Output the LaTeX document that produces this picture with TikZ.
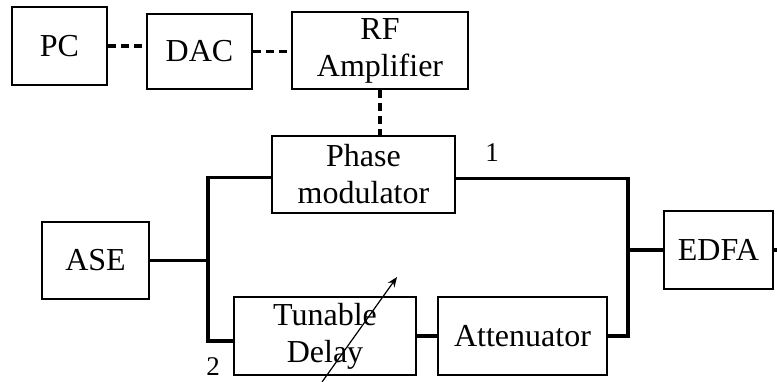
\documentclass[tikz,border=0pt]{standalone}
\usepackage{fontspec}
\setmainfont{Liberation Serif}
\usetikzlibrary{arrows.meta}
\begin{document}
\begin{tikzpicture}[x=1pt,y=-1pt,
  box/.style={draw, line width=1.9pt, rectangle, inner sep=0pt, align=center,
    font=\fontsize{32}{37}\selectfont},
  fibre/.style={line width=3.3pt},
  elec/.style={line width=3.5pt, dash pattern=on 8pt off 5pt},
  tag/.style={inner sep=0pt, font=\fontsize{27}{30}\selectfont}]
\useasboundingbox (0,0) rectangle (777,381);

% blocks
\node[box, minimum width=95pt,  minimum height=78pt] (pc)   at (59.5,46)   {PC};
\node[box, minimum width=105pt, minimum height=75pt] (dac)  at (199.5,51.5) {DAC};
\node[box, minimum width=176pt, minimum height=77pt] (rf)   at (380,50.5)  {RF\\Amplifier};
\node[box, minimum width=183pt, minimum height=77pt] (pm)   at (363.5,174.5) {Phase\\modulator};
\node[box, minimum width=107pt, minimum height=77pt] (ase)  at (95.5,260.5) {ASE};
\node[box, minimum width=182pt, minimum height=78pt] (tun)  at (325,336)   {Tunable\\Delay};
\node[box, minimum width=169pt, minimum height=78pt] (att)  at (522.5,336) {Attenuator};
\node[box, minimum width=109pt, minimum height=78pt] (edfa) at (718.5,250) {EDFA};

% junction points of the two arms
\coordinate (jl) at (208,259);
\coordinate (jr) at (628,248);
\coordinate (out) at (780,250);
\coordinate (tail) at (322,382);
\coordinate (tip) at (397,277);

% electrical links
\draw[elec] (pc.east) -- (pc.east -| dac.west);
\draw[elec] (dac.east) -- (dac.east -| rf.west);
\draw[elec] (rf.south) -- (rf.south |- pm.north);

% optical links
\draw[fibre] (ase.east) -- (ase.east -| jl);
\draw[fibre] ([yshift=-3pt]pm.west) -| (jl) |- ([yshift=-5pt]tun.west);
\draw[fibre] ([yshift=-4pt]pm.east) -| (jr) |- (att.east);
\draw[fibre] (tun.east) -- (att.west);
\draw[fibre] (edfa.west) -- (edfa.west -| jr);
\draw[fibre] (edfa.east) -- (out);

% tuning arrow
\draw[line width=1.2pt, -{Stealth[length=10pt,width=8pt]}] (tail) -- (tip);

% arm labels
\node[tag] (l1) at (492,153) {1};
\node[tag] (l2) at (213,367) {2};
\end{tikzpicture}
\end{document}
